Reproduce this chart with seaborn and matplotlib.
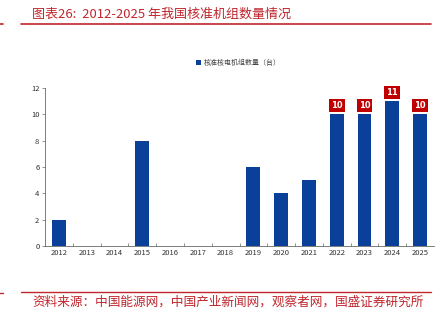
import matplotlib
matplotlib.use("Agg")
import matplotlib.pyplot as plt
from matplotlib.lines import Line2D
from matplotlib.patches import Patch
import seaborn as sns
import pandas as pd

years = ["2012", "2013", "2014", "2015", "2016", "2017", "2018",
         "2019", "2020", "2021", "2022", "2023", "2024", "2025"]
approved_units = [2, 0, 0, 8, 0, 0, 0, 6, 4, 5, 10, 10, 11, 10]
labeled_years = ["2022", "2023", "2024", "2025"]
y_ticks = [0, 2, 4, 6, 8, 10, 12]

title_text = "图表26:  2012-2025 年我国核准机组数量情况"
legend_text = "核准核电机组数量（台）"
source_text = "资料来源：中国能源网，中国产业新闻网，观察者网，国盛证券研究所"

BAR_BLUE = "#0a3f9a"
RED = "#c0262d"

sns.set_theme(style="white")
plt.rcParams["font.family"] = ["Noto Sans CJK SC", "DejaVu Sans"]

df = pd.DataFrame({"year": years, "units": approved_units})

fig = plt.figure(figsize=(4.44, 3.23), dpi=100)
ax = fig.add_axes([45 / 444, 1 - 246 / 323, (434 - 45) / 444, (246 - 88) / 323])

sns.barplot(data=df, x="year", y="units", color=BAR_BLUE, width=0.5,
            saturation=1, ax=ax, edgecolor="none")

ax.set_xlim(-0.5, len(years) - 0.5)
ax.set_ylim(0, 12)
ax.set_yticks(y_ticks)
ax.set_xlabel("")
ax.set_ylabel("")
ax.tick_params(axis="both", labelsize=5.5, colors="#333333", pad=2)
ax.tick_params(axis="y", length=2, width=0.5, left=True, color="#666666")
ax.tick_params(axis="x", length=0)
ax.set_xticks([i + 0.5 for i in range(len(years) - 1)], minor=True)
ax.tick_params(axis="x", which="minor", length=2, width=0.5, direction="in",
               bottom=True, color="#666666")

for side in ["top", "right"]:
    ax.spines[side].set_visible(False)
for side in ["left", "bottom"]:
    ax.spines[side].set_color("#666666")
    ax.spines[side].set_linewidth(0.6)

# value tags on the most recent years
for i, (yr, v) in enumerate(zip(years, approved_units)):
    if yr in labeled_years:
        ax.text(i, v + 0.3, f"{v}", ha="center", va="bottom", fontsize=6,
                color="white", fontweight="bold", family="DejaVu Sans",
                bbox=dict(boxstyle="square,pad=0.25", fc="#c00000", ec="none"),
                clip_on=False)

# legend above the plot
handle = Patch(facecolor=BAR_BLUE, edgecolor="none")
fig.legend([handle], [legend_text], loc="center", bbox_to_anchor=(238 / 444, 1 - 63 / 323),
           frameon=False, fontsize=5, handlelength=0.8, handleheight=0.8,
           handletextpad=0.3, labelcolor="#444444")

# header and footer rules
fig.add_artist(Line2D([21 / 444, 431 / 444], [1 - 24 / 323] * 2, color=RED, lw=1.2))
fig.add_artist(Line2D([0, 3 / 444], [1 - 24 / 323] * 2, color=RED, lw=1.2))
fig.add_artist(Line2D([21 / 444, 431 / 444], [1 - 292 / 323] * 2, color=RED, lw=1.0))
fig.add_artist(Line2D([0, 3 / 444], [1 - 293 / 323] * 2, color=RED, lw=1.0))

fig.text(32 / 444, 1 - 14 / 323, title_text, color=RED, fontsize=9.4,
         style="italic", va="center", ha="left")
fig.text(32 / 444, 1 - 302 / 323, source_text, color=RED, fontsize=9.1,
         style="italic", va="center", ha="left")

fig.savefig("out.png", dpi=100)
